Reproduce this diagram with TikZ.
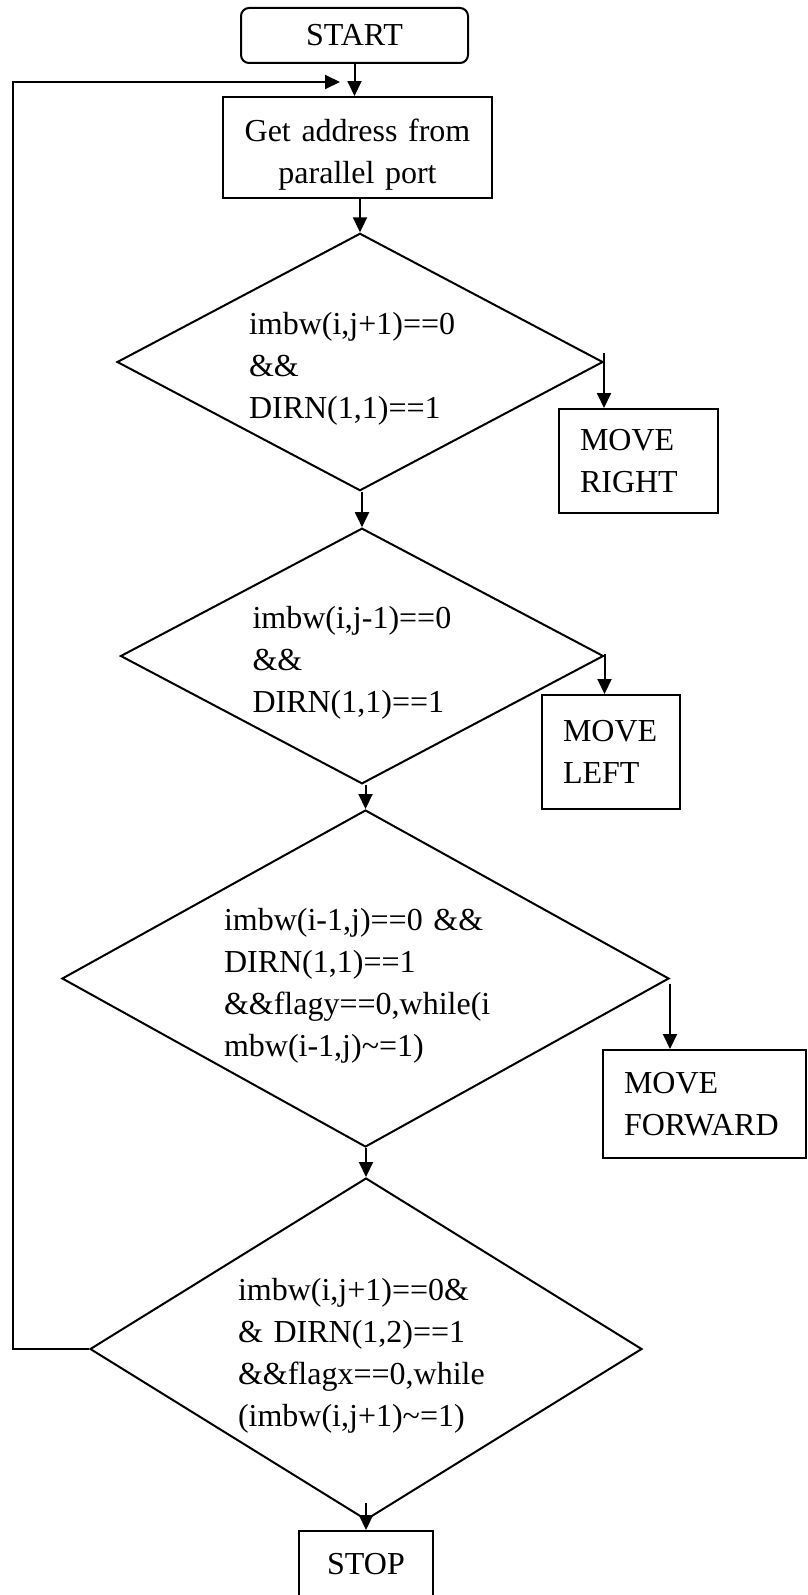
\documentclass[tikz,border=0pt]{standalone}
\usepackage{fontspec}
\setmainfont{Liberation Serif}
\usetikzlibrary{shapes.geometric, arrows.meta}

\begin{document}
\begin{tikzpicture}[x=1pt, y=-1pt, line width=2pt,
	font=\fontsize{32}{42}\selectfont,
	flow/.style={-{Triangle[length=15pt, width=14pt]}},
	decision/.style={draw, diamond, aspect=1.7, inner sep=0pt, align=left, text height=36pt},
	process/.style={draw, rectangle, inner sep=0pt, align=center},
	action/.style={draw, rectangle, inner xsep=21pt, inner ysep=0pt, align=left}]
	
	\useasboundingbox (0, 0) rectangle (808, 1595);
	\clip (0, 0) rectangle (808, 1595);
	
	\node[process, rounded corners=8pt, minimum width=227pt, minimum height=55pt]
	(start) at (354.5, 35.5) {START};
	\node[process, text width=269pt, minimum height=101pt, text height=36pt]
	(getaddr) at (357.5, 147.5) {Get address from\\parallel port};
	
	\node[decision, minimum width=486pt, minimum height=256pt, text width=222pt]
	(chkright) at (360, 362) {imbw(i,j+1)==0\\\&\&\\DIRN(1,1)==1};
	\node[action, text width=117pt, minimum height=104pt]
	(moveright) at (638.5, 461) {MOVE\\RIGHT};
	
	\node[decision, minimum width=483pt, minimum height=252pt, text width=219pt]
	(chkleft) at (362, 656) {imbw(i,j-1)==0\\\&\&\\DIRN(1,1)==1};
	\node[action, text width=96pt, minimum height=114pt]
	(moveleft) at (611, 752) {MOVE\\LEFT};
	
	\node[decision, minimum width=607pt, minimum height=337pt, text width=283pt]
	(chkfwd) at (365.5, 978.5) {imbw(i-1,j)==0 \&\&\\DIRN(1,1)==1\\
		\&\&flagy==0,while(i\\mbw(i-1,j)\textasciitilde=1)};
	\node[action, text width=161pt, minimum height=108pt]
	(movefwd) at (704.5, 1104) {MOVE\\FORWARD};
	
	\node[decision, minimum width=552pt, minimum height=342pt, text width=256pt]
	(chkx) at (366, 1349) {imbw(i,j+1)==0\&\\\& DIRN(1,2)==1\\
		\&\&flagx==0,while\\(imbw(i,j+1)\textasciitilde=1)};
	
	% box runs past the lower edge
	\node[process, minimum width=134pt, minimum height=88pt, text depth=23pt, anchor=north]
	(stop) at (366, 1530) {STOP};
	
	\coordinate (loopcorner) at (12.5, 82);
	\coordinate (loopin) at (340, 82);
	
	\draw[flow] (start.south) -- (start.south |- getaddr.north);
	\draw[flow] (getaddr.south -| chkright.north) -- (chkright.north);
	\draw[flow] ([yshift=9pt]chkright.east) -- (chkright.east |- moveright.north);
	\draw[flow] (chkright.south -| chkleft.north) -- (chkleft.north);
	\draw[flow] ([yshift=2pt]chkleft.east) -- (chkleft.east |- moveleft.north);
	\draw[flow] (chkleft.south -| chkfwd.north) -- (chkfwd.north);
	\draw[flow] ([yshift=-5pt]chkfwd.east) -- (chkfwd.east |- movefwd.north);
	\draw[flow] (chkfwd.south -| chkx.north) -- (chkx.north);
	\draw[flow] ([yshift=18pt]chkx.south) -- (stop.north);
	\draw[flow] (chkx.west) -| (loopcorner) -- (loopin);
\end{tikzpicture}
\end{document}
